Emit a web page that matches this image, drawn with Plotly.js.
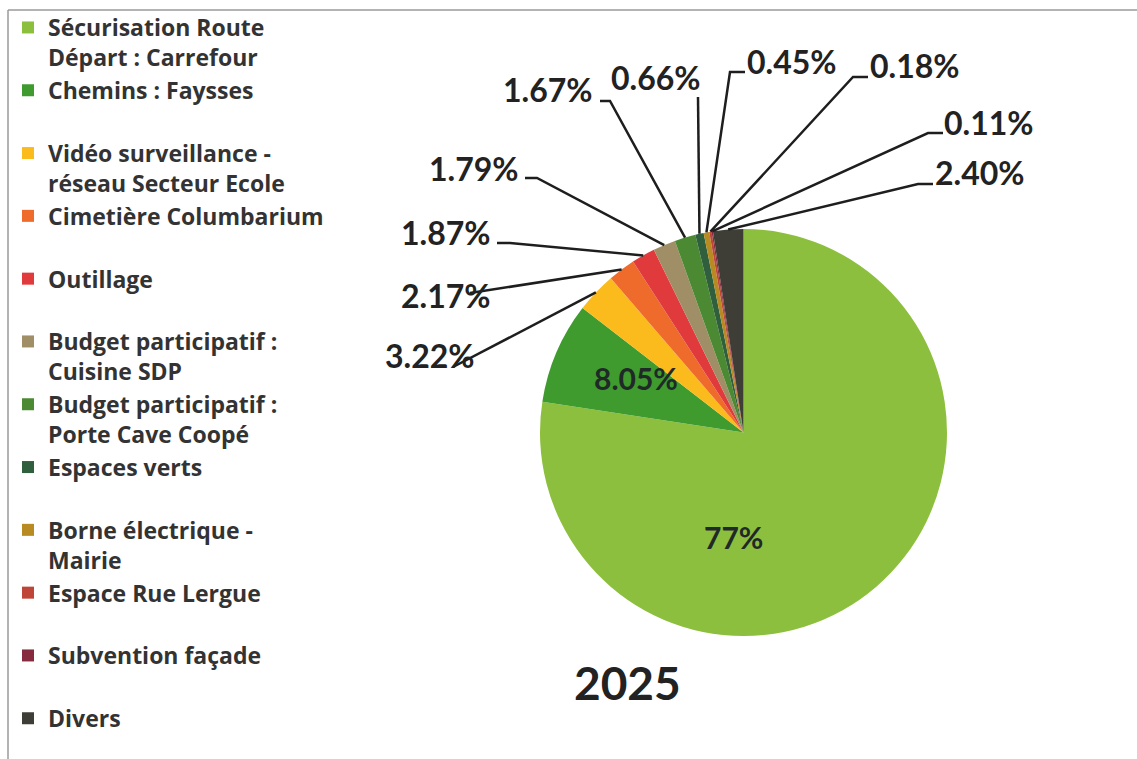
<!DOCTYPE html>
<html>
<head>
<meta charset="utf-8">
<script src="https://cdn.plot.ly/plotly-3.0.1.min.js"></script>
<style>html,body{margin:0;padding:0;background:#fff;}#chart{width:1137px;height:759px;}</style>
</head>
<body>
<div id="chart"></div>
<script>
// ---- data ----
const categories = [
  "Sécurisation Route<br>Départ : Carrefour",
  "Chemins : Faysses<br> ",
  "Vidéo surveillance -<br>réseau Secteur Ecole",
  "Cimetière Columbarium<br> ",
  "Outillage<br> ",
  "Budget participatif :<br>Cuisine SDP",
  "Budget participatif :<br>Porte Cave Coopé",
  "Espaces verts<br> ",
  "Borne électrique -<br>Mairie",
  "Espace Rue Lergue<br> ",
  "Subvention façade<br> ",
  "Divers"
];
const values = [77.40, 8.05, 3.22, 2.17, 1.87, 1.79, 1.67, 0.66, 0.45, 0.18, 0.11, 2.40];
const valueLabels = ["77%", "8.05%", "3.22%", "2.17%", "1.87%", "1.79%", "1.67%", "0.66%", "0.45%", "0.18%", "0.11%", "2.40%"];
const colors = ["#8dbf3e", "#3f9b2d", "#fbbb1c", "#ee6b2b", "#e03a3c", "#a08f66", "#4b8a32", "#2f5f3c", "#b88a22", "#be4538", "#862b3d", "#3e3e36"];
const chartTitle = "2025";

// ---- layout config (pixel positions) ----
const W = 1137, H = 759;
const pieBox = {x0: 540, x1: 947, y0: 229, y1: 636};
// label centre positions
const labelPos = [[733,537],[636,378],[430,355],[446,295],[446,233],[474,168],[548,90],[656,77],[792,61],[915,66],[989,123],[980,173]];
// leader line start points (null = no leader) and elbow points
const leaderStart = [null,null,[453,367],[470,293],[497,243],[525,178],[600,101],[698,97],[745,72],[868,77],[943,133],[933,184]];
const leaderElbow = [null,null,null,null,[510,243],[537,178],[610,101],null,[730,72],[853,77],[928,133],[918,184]];

const px = x => x / W;
const py = y => 1 - y / H;

// slice geometry from data
const cx = (pieBox.x0 + pieBox.x1) / 2, cy = (pieBox.y0 + pieBox.y1) / 2;
const R = Math.min(pieBox.x1 - pieBox.x0, pieBox.y1 - pieBox.y0) / 2;
const total = values.reduce((a, b) => a + b, 0);
let cum = 0;
const edgePts = values.map(v => {
  const mid = (cum + v / 2) / total * 2 * Math.PI;
  cum += v;
  return [cx + R * Math.sin(mid), cy - R * Math.cos(mid)];
});

const annotations = valueLabels.map((t, i) => ({
  text: t, xref: 'paper', yref: 'paper', x: px(labelPos[i][0]), y: py(labelPos[i][1]),
  xanchor: 'center', yanchor: 'middle', showarrow: false,
  font: {family: 'Lato, sans-serif', size: i < 2 ? 30 : 32, weight: 'bold', color: i < 2 ? '#1f2a28' : '#222'}
}));
annotations.push({
  text: chartTitle, xref: 'paper', yref: 'paper', x: px(627), y: py(682),
  xanchor: 'center', yanchor: 'middle', showarrow: false,
  font: {family: 'Lato, sans-serif', size: 46, weight: 'bold', color: '#222'}
});

const shapes = [];
leaderStart.forEach((s, i) => {
  if (!s) return;
  const pts = [s];
  if (leaderElbow[i]) pts.push(leaderElbow[i]);
  pts.push(edgePts[i]);
  const path = pts.map((p, k) => (k ? 'L' : 'M') + px(p[0]) + ',' + py(p[1])).join(' ');
  shapes.push({type: 'path', xref: 'paper', yref: 'paper', path: path, line: {color: '#1e1e1e', width: 2.5}});
});
// frame
shapes.push({type: 'line', xref: 'paper', yref: 'paper', x0: px(8), x1: 1, y0: py(10), y1: py(10), line: {color: '#9a9a9a', width: 1.5}});
shapes.push({type: 'line', xref: 'paper', yref: 'paper', x0: px(8), x1: px(8), y0: py(10), y1: 0, line: {color: '#9a9a9a', width: 1.5}});

const trace = {
  type: 'pie', labels: categories, values: values, sort: false, direction: 'clockwise', rotation: 0,
  marker: {colors: colors, line: {width: 0}}, textinfo: 'none', hoverinfo: 'label+percent',
  domain: {x: [px(pieBox.x0), px(pieBox.x1)], y: [py(pieBox.y1), py(pieBox.y0)]}
};

const layout = {
  width: W, height: H, margin: {l: 0, r: 0, t: 0, b: 0},
  paper_bgcolor: '#fff', plot_bgcolor: '#fff', showlegend: true,
  legend: {x: px(8), y: py(6), xanchor: 'left', yanchor: 'top', valign: 'top',
    font: {family: '"Open Sans", sans-serif', size: 23, weight: 'bold', color: '#333'},
    bgcolor: 'rgba(0,0,0,0)', itemwidth: 30},
  annotations: annotations, shapes: shapes
};

Plotly.newPlot('chart', [trace], layout, {displayModeBar: false, staticPlot: true});
</script>
</body>
</html>
